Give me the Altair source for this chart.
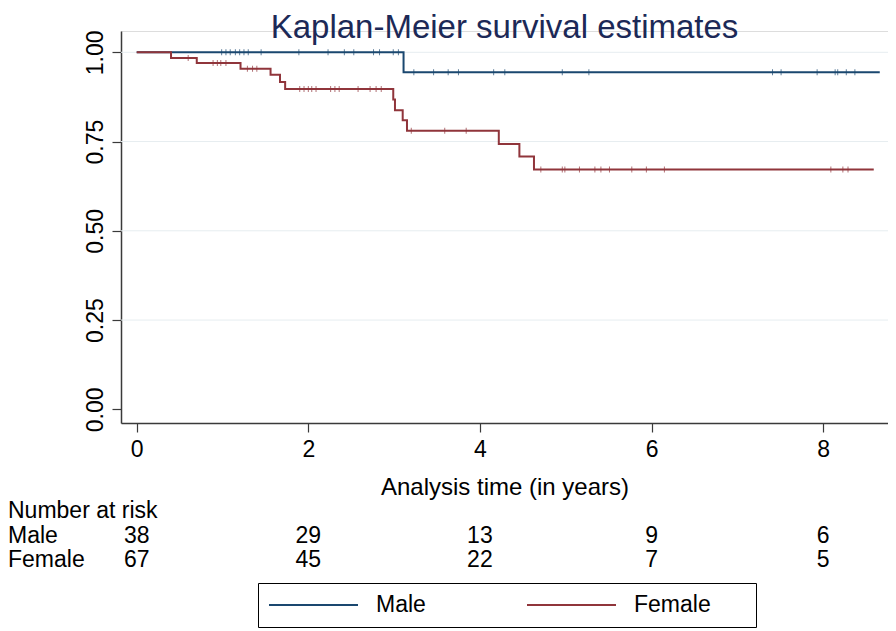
import altair as alt
import pandas as pd

# ---------------- data ----------------
groups = ["Male", "Female"]
colors = ["#1a476f", "#90353b"]

male_step_time = [0.0, 3.11, 8.66]
male_step_surv = [1.0, 0.944, 0.944]

female_step_time = [0.0, 0.40, 0.70, 1.21, 1.56, 1.67, 1.73, 2.99, 3.01, 3.10, 3.15, 4.22, 4.46, 4.63, 8.59]
female_step_surv = [1.0, 0.984, 0.970, 0.954, 0.937, 0.917, 0.897, 0.868, 0.838, 0.810, 0.780, 0.743, 0.708, 0.672, 0.672]

male_censor_time = [0.99, 1.04, 1.09, 1.15, 1.20, 1.25, 1.30, 1.45, 1.89, 2.23, 2.42, 2.53, 2.76, 2.83, 2.99, 3.05,
                    3.23, 3.46, 3.63, 3.75, 4.16, 4.29, 4.96, 5.27, 7.41, 7.51, 7.93, 8.14, 8.17, 8.27, 8.37]
female_censor_time = [0.60, 0.89, 0.94, 0.98, 1.04, 1.29, 1.35, 1.40,
                      1.90, 1.95, 2.00, 2.04, 2.09, 2.26, 2.31, 2.36, 2.58, 2.72, 2.79, 2.85,
                      3.20, 3.59, 3.84,
                      4.71, 4.96, 4.99, 5.16, 5.34, 5.41, 5.51, 5.77, 5.94, 6.15, 8.09, 8.23, 8.29]

risk_times = [0, 2, 4, 6, 8]
male_at_risk = [38, 29, 13, 9, 6]
female_at_risk = [67, 45, 22, 7, 5]

x_ticks = [0, 2, 4, 6, 8]
y_ticks = [0.0, 0.25, 0.50, 0.75, 1.00]
grid_levels = [0.25, 0.50, 0.75, 1.00]

TITLE = "Kaplan-Meier survival estimates"
X_TITLE = "Analysis time (in years)"

# ---------------- tables ----------------
def step_value(times, survs, t):
    val = survs[0]
    for tt, ss in zip(times, survs):
        if tt <= t:
            val = ss
    return val

steps = pd.DataFrame(
    [{"group": "Male", "time": t, "surv": s} for t, s in zip(male_step_time, male_step_surv)]
    + [{"group": "Female", "time": t, "surv": s} for t, s in zip(female_step_time, female_step_surv)]
)
censor = pd.DataFrame(
    [{"group": "Male", "time": t, "surv": step_value(male_step_time, male_step_surv, t)} for t in male_censor_time]
    + [{"group": "Female", "time": t, "surv": step_value(female_step_time, female_step_surv, t)} for t in female_censor_time]
)
risk_m = pd.DataFrame({"time": risk_times, "n": male_at_risk})
risk_f = pd.DataFrame({"time": risk_times, "n": female_at_risk})
grid = pd.DataFrame({"level": grid_levels})

FONT = "Liberation Sans"
AXC = "#3a3a3a"
PLOT_W, PLOT_H = 767, 392

xscale = alt.Scale(domain=[-0.183, 8.756], nice=False, zero=False)
yscale = alt.Scale(domain=[-0.0384, 1.0597], nice=False, zero=False)
cscale = alt.Scale(domain=groups, range=colors)

x_axis = alt.Axis(values=x_ticks, format="d", tickSize=9, labelPadding=6, labelFontSize=23,
                  labelFont=FONT, labelColor="black", title=X_TITLE, titleFont=FONT,
                  titleFontSize=24, titleFontWeight="normal", titleColor="black", titlePadding=14,
                  grid=False, domainColor=AXC, domainWidth=1.5, tickColor=AXC, tickWidth=1.2)
y_axis = alt.Axis(values=y_ticks, format=".2f", tickSize=9, labelPadding=10, labelFontSize=23,
                  labelFont=FONT, labelColor="black", labelAngle=270, labelAlign="center",
                  labelBaseline="alphabetic", grid=False, domainColor=AXC, domainWidth=1.5,
                  tickColor=AXC, tickWidth=1.2, title=None)

legend = alt.Legend(title="\u00a0", titleOrient="right", titlePadding=35, titleFontSize=23,
                    orient="none", legendX=137, legendY=552, direction="horizontal",
                    symbolType="stroke", symbolSize=7921, symbolStrokeWidth=2, clipHeight=24,
                    labelFont=FONT, labelFontSize=23, labelColor="black", labelOffset=17,
                    columnPadding=100, padding=10, strokeColor="black")

gridlayer = alt.Chart(grid).mark_rule(color="#e6edf0", strokeWidth=1).encode(
    y=alt.Y("level:Q", scale=yscale, axis=y_axis)
)

base = alt.Chart(steps).mark_line(interpolate="step-after", strokeWidth=2).encode(
    x=alt.X("time:Q", scale=xscale, axis=x_axis),
    y=alt.Y("surv:Q", scale=yscale, axis=y_axis),
    color=alt.Color("group:N", scale=cscale, legend=legend),
)
male_line = base.transform_filter(alt.datum.group == "Male")
female_line = base.transform_filter(alt.datum.group == "Female")

ticks = alt.Chart(censor).mark_tick(orient="vertical", size=6, thickness=1).encode(
    x=alt.X("time:Q", scale=xscale),
    y=alt.Y("surv:Q", scale=yscale),
    color=alt.Color("group:N", scale=cscale, legend=None),
)

txt = dict(font=FONT, fontSize=23, color="black", baseline="alphabetic")
risk_male = alt.Chart(risk_m).mark_text(align="center", **txt).encode(
    x=alt.X("time:Q", scale=xscale), y=alt.value(512), text="n:Q")
risk_female = alt.Chart(risk_f).mark_text(align="center", **txt).encode(
    x=alt.X("time:Q", scale=xscale), y=alt.value(536), text="n:Q")

def label_mark(label, xpix, ypix, align="left", size=23, color="black"):
    return alt.Chart(pd.DataFrame({"label": [label]})).mark_text(
        align=align, baseline="alphabetic", font=FONT, fontSize=size, color=color
    ).encode(x=alt.value(xpix), y=alt.value(ypix), text="label:N")

title_mark = label_mark(TITLE, PLOT_W / 2, 7, align="center", size=33, color="#1c2957")

chart = alt.layer(
    gridlayer, male_line, female_line, ticks, risk_male, risk_female,
    label_mark("Number at risk", -113, 487), label_mark("Male", -113, 512),
    label_mark("Female", -113, 536), title_mark,
).properties(
    width=PLOT_W, height=PLOT_H,
    autosize=alt.AutoSizeParams(type="none"),
    padding={"left": 113, "top": 23, "right": 0, "bottom": 205},
).configure_view(strokeWidth=0).configure(background="white")

chart.save("out.html", embed_options={"renderer": "svg", "actions": False})
